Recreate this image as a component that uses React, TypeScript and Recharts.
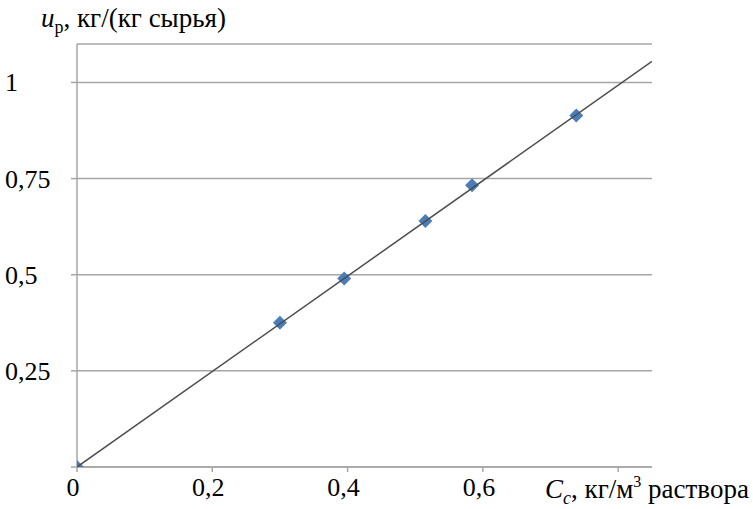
import React from 'react';
import {
  ScatterChart,
  Scatter,
  XAxis,
  YAxis,
  CartesianGrid,
} from 'recharts';

const points = [
  { x: 0.0, y: 0.0 },
  { x: 0.3, y: 0.375 },
  { x: 0.395, y: 0.49 },
  { x: 0.515, y: 0.64 },
  { x: 0.584, y: 0.733 },
  { x: 0.738, y: 0.914 },
];

// linear trend line at both ends
const trendLine = [
  { x: 0, y: 0 },
  { x: 0.85, y: 1.055 },
];

const xTicks = [0, 0.2, 0.4, 0.6, 0.8];
const yTicks = [0, 0.25, 0.5, 0.75, 1];

const serifFont = '"Liberation Serif", Times, serif';

const fmt = (v: number) => String(v).replace('.', ',');

const XTick = (props: any) => {
  const { x, y, payload } = props;
  if (payload.value === 0.8) return null;
  return (
    <text x={x - 4} y={y + 22} textAnchor='middle' fontFamily={serifFont} fontSize={26} fill='#000'>
      {fmt(payload.value)}
    </text>
  );
};

const YTick = (props: any) => {
  const { y, payload } = props;
  if (payload.value === 0) return null;
  return (
    <text x={5} y={y + 9} textAnchor='start' fontFamily={serifFont} fontSize={26} fill='#000'>
      {fmt(payload.value)}
    </text>
  );
};

const Diamond = (props: any) => {
  const { cx, cy } = props;
  const r = 7;
  return (
    <polygon
      points={`${cx},${cy - r} ${cx + r},${cy} ${cx},${cy + r} ${cx - r},${cy}`}
      fill='#4a7ebb'
    />
  );
};

const subStyle: React.CSSProperties = {
  fontSize: 18,
  position: 'relative',
  top: 6,
  verticalAlign: 'baseline',
  lineHeight: 0,
};

const supStyle: React.CSSProperties = {
  fontSize: 16,
  position: 'relative',
  top: -11,
  verticalAlign: 'baseline',
  lineHeight: 0,
};

const App: React.FC = () => {
  return (
    <div
      style={{
        position: 'absolute',
        left: 0,
        top: 0,
        width: 753,
        height: 509,
        background: '#fff',
        fontFamily: serifFont,
      }}
    >
      <ScatterChart
        width={753}
        height={509}
        margin={{ top: 44, right: 101, bottom: 41, left: 76 }}
      >
        <CartesianGrid vertical={false} stroke='#a6a6a6' strokeWidth={1.5} />
        <XAxis
          type='number'
          dataKey='x'
          domain={[0, 0.85]}
          ticks={xTicks}
          height={1}
          axisLine={{ stroke: '#a6a6a6', strokeWidth: 1.5 }}
          tickLine={{ stroke: '#a6a6a6', strokeWidth: 1.5 }}
          tickSize={5}
          tick={XTick}
          interval={0}
          allowDataOverflow
        />
        <YAxis
          type='number'
          dataKey='y'
          domain={[0, 1.1]}
          ticks={yTicks}
          width={1}
          axisLine={{ stroke: '#a6a6a6', strokeWidth: 1.5 }}
          tickLine={{ stroke: '#a6a6a6', strokeWidth: 1.5 }}
          tickSize={6}
          tick={YTick}
          interval={0}
          allowDataOverflow
        />
        <Scatter data={points} shape={<Diamond />} isAnimationActive={false} />
        <Scatter
          data={trendLine}
          line={{ stroke: '#4d4d4d', strokeWidth: 1.5 }}
          shape={() => null}
          isAnimationActive={false}
        />
      </ScatterChart>
      <div
        style={{
          position: 'absolute',
          left: 41,
          top: 3,
          fontSize: 27,
          lineHeight: '30px',
          whiteSpace: 'nowrap',
        }}
      >
        <i>u</i>
        <span style={subStyle}>р</span>, кг/(кг сырья)
      </div>
      <div
        style={{
          position: 'absolute',
          left: 545,
          top: 474,
          fontSize: 27,
          lineHeight: '30px',
          whiteSpace: 'nowrap',
        }}
      >
        <i>C</i>
        <span style={subStyle}><i>c</i></span>, кг/м<span style={supStyle}>3</span> раствора
      </div>
    </div>
  );
};

export default App;
